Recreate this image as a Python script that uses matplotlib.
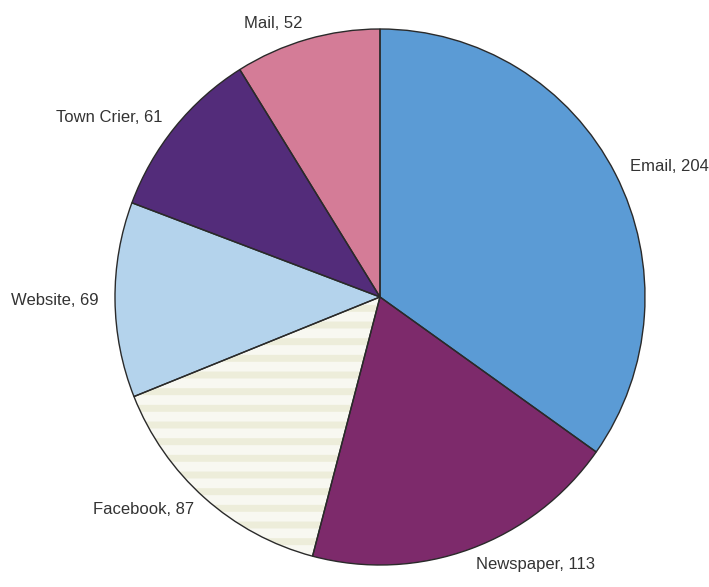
import matplotlib
matplotlib.use("Agg")
import matplotlib.pyplot as plt

labels = ["Email", "Newspaper", "Facebook", "Website", "Town Crier", "Mail"]
values = [204, 113, 87, 69, 61, 52]
colors = ["#5b9bd5", "#7d2a6b", "#f8f8f1", "#b4d3ec", "#532c7a", "#d47c97"]

plt.rcParams["font.family"] = ["Liberation Sans", "DejaVu Sans"]
plt.rcParams["hatch.linewidth"] = 5

fig = plt.figure(figsize=(7.09, 5.87), dpi=100)
# pie centre ~ (380, 297) px, radii ~ 265 x 268 px (slightly stretched scan)
cx, cy, rx, ry = 380, 297, 265, 268
ax = fig.add_axes([(cx - rx) / 709, (587 - cy - ry) / 587, 2 * rx / 709, 2 * ry / 587])

texts = [f"{l}, {v}" for l, v in zip(labels, values)]
wedges, txts = ax.pie(values, labels=texts, colors=colors, startangle=90,
                      counterclock=False, labeldistance=1.06,
                      wedgeprops=dict(linewidth=0),
                      textprops=dict(fontsize=12, color="#333333"))

# faint striped fill on the Facebook slice
ax.pie(values, startangle=90, counterclock=False,
       colors=["none"] * len(values),
       hatch=["", "", "-", "", "", ""],
       wedgeprops=dict(edgecolor="#ededda", linewidth=0))
ax.pie(values, startangle=90, counterclock=False,
       colors=["none"] * len(values),
       wedgeprops=dict(edgecolor="#2a2a2a", linewidth=1.0))

ax.set_xlim(-1, 1)
ax.set_ylim(-1, 1)
ax.set_aspect("auto")
fig.savefig("out.png", dpi=100)
